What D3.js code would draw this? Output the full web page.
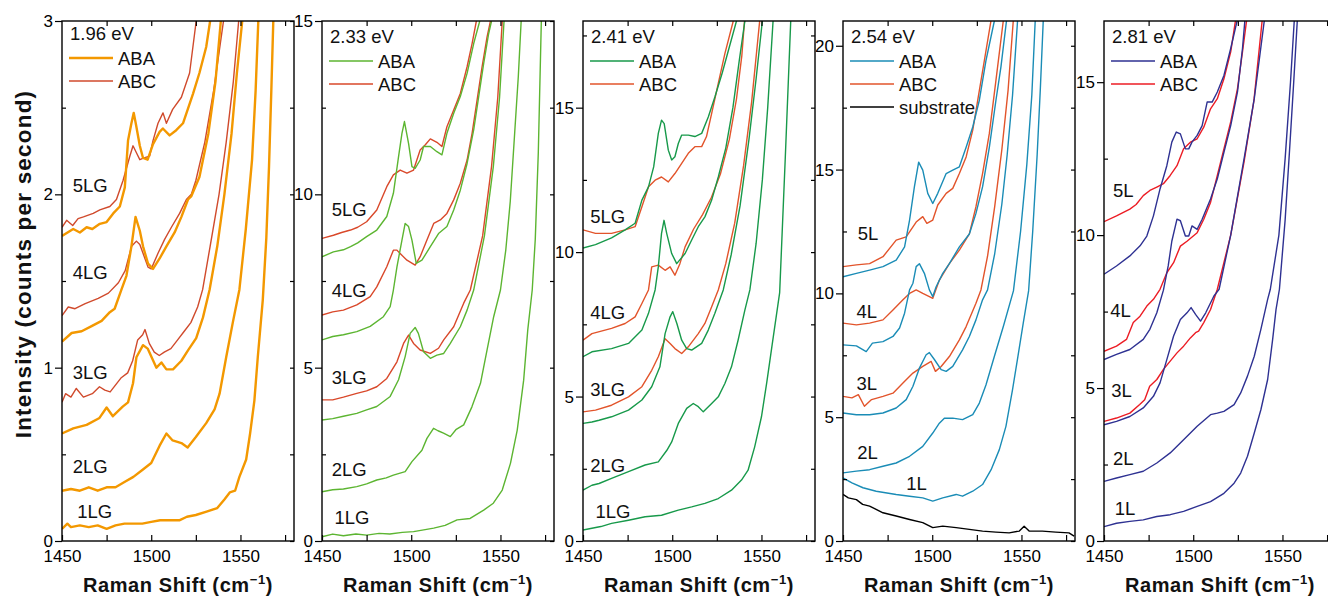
<!DOCTYPE html>
<html>
<head>
<meta charset="utf-8">
<script src="https://cdn.jsdelivr.net/npm/d3@7"></script>
<style>
  body { margin: 0; background: #fff; }
  svg { display: block; font-family: "Liberation Sans", Arial, Helvetica, sans-serif; }
</style>
</head>
<body>
<script>
// ---- data: [Raman shift (cm-1), intensity (counts per second)] ----
const energies = ['1.96 eV', '2.33 eV', '2.41 eV', '2.54 eV', '2.81 eV'];
const yMax = [3, 15, 18, 21, 17];
const layersLG = ['5LG', '4LG', '3LG', '2LG', '1LG'];
const layersL = ['5L', '4L', '3L', '2L', '1L'];

// 1.96 eV
const p1_1LG = [[1450,0.07],[1453,0.1],[1455,0.08],[1460,0.09],[1465,0.08],[1470,0.09],[1475,0.07],[1480,0.09],[1485,0.1],[1490,0.1],[1495,0.1],[1500,0.11],[1505,0.12],[1510,0.12],[1516,0.12],[1520,0.14],[1525,0.15],[1531,0.17],[1537,0.19],[1541,0.24],[1544,0.28],[1547,0.29],[1549.4,0.37],[1553.2,0.47],[1555.4,0.62],[1557.8,0.81],[1559.7,1.06],[1562.5,1.39],[1564.5,1.75],[1566,2.16],[1567.3,2.6],[1568.4,3.0]];
const p1_2LG = [[1450,0.29],[1455,0.3],[1460,0.29],[1465,0.31],[1470,0.29],[1475,0.31],[1480,0.31],[1485,0.34],[1490,0.37],[1495,0.41],[1500,0.45],[1504.7,0.55],[1508.5,0.62],[1512,0.58],[1516.9,0.565],[1520.4,0.54],[1525,0.6],[1530.8,0.68],[1535.5,0.76],[1538.3,0.85],[1542,1.06],[1545.7,1.26],[1549.4,1.45],[1553,1.8],[1556.5,2.2],[1558.5,2.6],[1560,3.0]];
const p1_3LG_ABA = [[1450,0.62],[1456.3,0.65],[1463.8,0.67],[1471,0.71],[1475,0.77],[1478.5,0.72],[1484,0.775],[1487,0.8],[1489.8,0.91],[1491.7,1.06],[1495.4,1.13],[1498,1.11],[1502.9,1.0],[1505.7,1.03],[1508.5,0.99],[1512.2,0.99],[1516.9,1.04],[1520.6,1.1],[1525.2,1.17],[1529,1.29],[1532.7,1.45],[1537,1.7],[1541,2.0],[1545,2.35],[1548,2.7],[1551,3.0]];
const p1_3LG_ABC = [[1450,0.8],[1452,0.85],[1455,0.83],[1458,0.88],[1462,0.83],[1467,0.85],[1471,0.89],[1474,0.87],[1477,0.86],[1483,0.94],[1486.8,0.97],[1489.6,1.04],[1492.4,1.16],[1495.2,1.19],[1496.5,1.22],[1498.9,1.14],[1501.7,1.09],[1504.5,1.07],[1507.3,1.09],[1511,1.11],[1514.8,1.16],[1518.5,1.21],[1522.2,1.26],[1526,1.35],[1528.8,1.45],[1533,1.7],[1538,2.0],[1542,2.3],[1546,2.65],[1549,3.0]];
const p1_4LG_ABA = [[1450,1.15],[1455.4,1.2],[1461,1.21],[1466.6,1.24],[1472.2,1.27],[1476.8,1.32],[1479.5,1.34],[1483.3,1.45],[1486.1,1.53],[1488.9,1.7],[1491.2,1.87],[1493.6,1.79],[1495.4,1.7],[1498.2,1.6],[1501,1.57],[1504.7,1.63],[1508.5,1.7],[1513.1,1.78],[1516.9,1.87],[1520.6,1.97],[1522.5,1.99],[1527,2.1],[1532,2.35],[1536,2.65],[1539,3.0]];
const p1_4LG_ABC = [[1450,1.3],[1453.5,1.35],[1457.3,1.34],[1463,1.37],[1470.3,1.4],[1476,1.43],[1481.6,1.49],[1485.4,1.56],[1489,1.7],[1491.7,1.73],[1493.6,1.71],[1495.4,1.66],[1498.2,1.58],[1500,1.57],[1503.8,1.66],[1507.5,1.74],[1511.3,1.81],[1515.9,1.89],[1519.7,1.97],[1522.5,2.0],[1525,2.08],[1530,2.3],[1535,2.6],[1540.5,3.0]];
const p1_5LG_ABA = [[1450,1.76],[1456.3,1.8],[1460,1.78],[1463.8,1.81],[1467,1.8],[1471.2,1.83],[1475,1.84],[1478.7,1.89],[1482.4,1.93],[1485.2,2.04],[1487,2.31],[1488.9,2.41],[1490.2,2.47],[1491.5,2.4],[1493.6,2.28],[1495.4,2.21],[1498,2.2],[1501,2.29],[1504.7,2.36],[1506.5,2.38],[1510.3,2.34],[1514,2.37],[1517.8,2.41],[1523.4,2.58],[1527,2.7],[1530.8,2.85],[1533,3.0]];
const p1_5LG_ABC = [[1450,1.81],[1452.6,1.85],[1456,1.82],[1459,1.86],[1462,1.87],[1467.5,1.89],[1471.2,1.91],[1476.8,1.93],[1480.5,1.97],[1484.2,2.08],[1488,2.22],[1489.8,2.28],[1491.7,2.24],[1493.6,2.2],[1496,2.21],[1499.1,2.22],[1501,2.31],[1503.8,2.41],[1506.6,2.47],[1508.5,2.41],[1512,2.49],[1516.9,2.56],[1521.5,2.7],[1525.2,3.0]];

// 2.33 eV
const p2_1LG = [[1450,0.12],[1456,0.2],[1462,0.15],[1469,0.2],[1475,0.17],[1482,0.22],[1488,0.2],[1495,0.25],[1501.3,0.27],[1507,0.32],[1512.6,0.37],[1519,0.45],[1525.7,0.61],[1533,0.65],[1540.6,0.89],[1546,1.09],[1551,1.47],[1555.6,2.24],[1559.4,3.2],[1563,4.64],[1565.3,6.09],[1567.8,7.24],[1569.5,8.7],[1571.2,11.2],[1572.9,15]];
const p2_2LG = [[1450,1.42],[1456,1.48],[1462,1.5],[1469.5,1.57],[1475,1.65],[1480.7,1.76],[1486,1.82],[1490,1.9],[1496.6,2.0],[1500.4,2.29],[1506,2.62],[1508.8,2.96],[1512.5,3.25],[1515,3.18],[1518.1,3.11],[1521.9,3.01],[1525,3.21],[1529.4,3.35],[1534,3.87],[1538.8,4.55],[1542.5,5.51],[1546.2,6.47],[1550,7.24],[1553,8.4],[1555.5,9.8],[1558,11.8],[1560,13.4],[1561.6,15]];
const p2_3LG_ABA = [[1450,3.49],[1456,3.53],[1462,3.6],[1469.5,3.68],[1475,3.78],[1480.7,3.88],[1488.2,4.17],[1492.9,4.65],[1496.6,5.32],[1499.4,5.99],[1502.2,6.16],[1504,5.99],[1506.9,5.46],[1510.7,5.27],[1514.4,5.36],[1518.2,5.41],[1521.9,5.7],[1527.5,6.18],[1531.3,6.66],[1535,7.24],[1541,8.8],[1546,10.8],[1549.5,12.8],[1552,15]];
const p2_3LG_ABC = [[1450,4.07],[1456,4.07],[1462,4.15],[1469.5,4.26],[1475,4.33],[1480.7,4.45],[1486.3,4.69],[1492,5.17],[1495.7,5.7],[1498.5,5.94],[1501.3,5.7],[1505,5.51],[1510.7,5.41],[1515.3,5.56],[1518.2,5.8],[1523.8,6.18],[1529.4,6.86],[1533.1,7.24],[1540,8.8],[1545,10.8],[1548.5,12.8],[1551,15]];
const p2_4LG_ABA = [[1450,5.8],[1456,5.9],[1462,5.95],[1469.5,6.04],[1477,6.19],[1484.4,6.47],[1488.2,6.76],[1490,7.24],[1492,7.91],[1494.8,8.68],[1496.6,9.16],[1498.5,9.07],[1500.4,8.68],[1502.8,8.01],[1506,8.1],[1510.7,8.49],[1515.3,8.87],[1520,9.07],[1523.8,9.55],[1527.5,10.12],[1531.3,10.89],[1535,11.86],[1537.8,12.82],[1540.6,13.78],[1543.4,14.64],[1545,15]];
const p2_4LG_ABC = [[1450,6.52],[1456,6.61],[1462,6.66],[1469.5,6.81],[1477,7.05],[1480.7,7.33],[1486.3,7.91],[1490,8.39],[1492,8.39],[1493.8,8.29],[1497.6,8.1],[1502.2,7.96],[1505,8.2],[1508.8,8.68],[1512.6,9.16],[1516.3,9.26],[1520,9.45],[1523.8,9.84],[1527.5,10.32],[1531.3,10.99],[1534.1,11.76],[1536.9,12.72],[1539.7,13.68],[1542.5,14.54],[1544.4,15]];
const p2_5LG_ABA = [[1450,8.2],[1456.4,8.34],[1462,8.4],[1466,8.49],[1470,8.6],[1475,8.78],[1480.7,8.97],[1486.3,9.36],[1490,10.03],[1492.9,11.09],[1494.8,11.76],[1496.2,12.1],[1498.5,11.47],[1500.4,10.8],[1502.2,10.75],[1505,10.99],[1506.9,11.38],[1510.7,11.38],[1514.4,11.23],[1517.2,11.14],[1520,11.76],[1523.8,12.34],[1527.5,12.82],[1531.3,13.49],[1535,14.35],[1538.4,15]];
const p2_5LG_ABC = [[1450,8.73],[1456.4,8.82],[1461,8.9],[1466,8.97],[1470,9.05],[1475,9.21],[1480.7,9.55],[1486.3,10.22],[1490,10.56],[1493.8,10.7],[1497.6,10.61],[1501.3,10.7],[1505,11.28],[1507.9,11.43],[1510.7,11.6],[1514.4,11.5],[1517.2,11.38],[1520,11.95],[1523.8,12.43],[1527.5,12.91],[1531.3,13.68],[1534.1,14.35],[1536.5,15]];

// 2.41 eV
const p3_1LG = [[1450,0.38],[1455,0.44],[1460,0.5],[1466,0.61],[1475.5,0.72],[1484.8,0.84],[1494,0.89],[1503.4,1.07],[1510.9,1.18],[1518.3,1.3],[1525.8,1.47],[1533.2,1.76],[1538.8,2.11],[1542.5,2.45],[1546.2,3.26],[1550,4.3],[1553,5.5],[1556,6.8],[1560.2,8.6],[1563.3,13.2],[1566.4,18]];
const p3_2LG = [[1450,1.76],[1455,1.93],[1459,1.99],[1466,2.17],[1475.5,2.4],[1484.8,2.63],[1492.2,2.74],[1497,3.14],[1499.7,3.43],[1503.4,4.07],[1508.1,4.59],[1511.8,4.76],[1514.6,4.65],[1517.4,4.47],[1522.1,4.76],[1525.8,4.99],[1529.5,5.45],[1533.2,6.03],[1536.9,6.95],[1540.7,7.99],[1543.5,8.69],[1547,10.3],[1550.5,12.5],[1553.5,15],[1556.5,18]];
const p3_3LG_ABA = [[1450,4.07],[1455,4.12],[1459,4.18],[1466,4.3],[1475.5,4.53],[1483,4.88],[1488.5,5.34],[1493.1,6.03],[1496,7.18],[1498.8,7.76],[1500.3,7.94],[1502.6,7.53],[1505.3,6.95],[1508.1,6.66],[1510.9,6.61],[1516.5,6.84],[1520.2,7.3],[1523.9,7.88],[1528.6,8.69],[1533,9.9],[1538,11.6],[1543,13.9],[1547,16],[1550.5,18]];
const p3_3LG_ABC = [[1450,4.47],[1457,4.53],[1466,4.7],[1475.5,4.99],[1483,5.34],[1488.5,5.91],[1492.2,6.38],[1496,7.0],[1498.8,6.84],[1501.5,6.66],[1505.3,6.49],[1509,6.72],[1514.6,7.18],[1518.3,7.53],[1522.1,8.11],[1525.8,8.69],[1530,9.6],[1535,11],[1540,13],[1544.5,15.2],[1549,18]];
const p3_4LG_ABA = [[1450,6.38],[1455,6.55],[1466,6.66],[1475.5,6.84],[1483,7.3],[1486.7,7.88],[1490.4,8.69],[1492.2,9.49],[1494,10.65],[1495.4,11.1],[1496.9,10.65],[1499.7,9.95],[1502.5,9.6],[1507.2,9.95],[1510.9,10.42],[1514.6,10.88],[1518.3,11.22],[1522.1,11.8],[1525.8,12.6],[1530,13.6],[1534,15],[1537.5,16.6],[1540.7,18]];
const p3_4LG_ABC = [[1450,6.95],[1455,7.18],[1466,7.36],[1473.6,7.53],[1479.2,7.76],[1483,8.22],[1486.7,8.69],[1488.5,9.49],[1492.2,9.55],[1496,9.37],[1498.8,9.49],[1501.5,9.2],[1504.3,9.6],[1507.2,10.18],[1512,10.8],[1517,11.3],[1522,11.9],[1527,12.7],[1532,13.9],[1536,15.3],[1539,16.8],[1540.5,18]];
const p3_5LG_ABA = [[1450,10.14],[1457,10.26],[1466,10.49],[1473.6,10.77],[1479.2,11.0],[1483,11.8],[1486.7,12.26],[1489.6,12.95],[1492.2,14.11],[1494,14.57],[1495.5,14.45],[1497.8,13.53],[1499.7,13.19],[1501.5,13.3],[1503.4,13.76],[1505.3,14.05],[1509,14.05],[1512.7,14.0],[1516.5,14.11],[1520.2,14.68],[1523.9,15.37],[1528,16.2],[1532,17.1],[1536,18]];
const p3_5LG_ABC = [[1450,10.77],[1457,10.65],[1466,10.65],[1473.6,10.77],[1479.2,10.88],[1483,11.57],[1486.7,12.26],[1490.4,12.49],[1494,12.6],[1497.8,12.43],[1501.5,12.72],[1505.3,13.07],[1509,13.42],[1512.7,13.65],[1516.5,13.65],[1519.2,14.0],[1522.1,14.8],[1525.8,15.84],[1529.5,16.87],[1534.2,18]];

// 2.54 eV
const p4_sub = [[1450,1.88],[1453,1.74],[1457.5,1.67],[1461,1.48],[1464.9,1.41],[1472.4,1.14],[1479.8,1.01],[1487.3,0.87],[1494.7,0.74],[1500.3,0.54],[1505.9,0.6],[1513.4,0.54],[1520.8,0.47],[1528.2,0.4],[1535.7,0.36],[1543.1,0.33],[1548.8,0.4],[1551.5,0.6],[1554.3,0.4],[1561.7,0.4],[1569.2,0.36],[1576.6,0.33],[1579.5,0.2]];
const p4_1L = [[1450,2.55],[1455,2.35],[1461.2,2.15],[1468.6,2.01],[1479.8,1.88],[1487.3,1.81],[1494.7,1.74],[1500.3,1.61],[1505.9,1.74],[1513.4,1.88],[1517,1.81],[1522.7,2.01],[1528.2,2.28],[1533,2.88],[1537.6,3.69],[1541.3,4.63],[1545,6.11],[1548,7.45],[1551,8.8],[1554,10.1],[1556.3,12.5],[1558.8,15.6],[1560.6,18.3],[1562.2,21]];
const p4_2L = [[1450,2.75],[1457.5,2.82],[1464.9,2.88],[1472.4,3.02],[1479.8,3.15],[1487.3,3.42],[1494.7,3.82],[1500.3,4.36],[1504,4.76],[1506.8,4.96],[1511.5,4.96],[1517,4.9],[1522.7,5.1],[1526.4,5.57],[1530.1,6.3],[1535,7.5],[1540,8.7],[1545.5,10.1],[1549.5,12.5],[1553,15.2],[1555.8,18],[1557.7,21]];
const p4_3L_ABA = [[1450,5.17],[1457.5,5.1],[1464.9,5.1],[1472.4,5.17],[1479.8,5.37],[1485.4,5.71],[1489.2,6.25],[1492.8,6.98],[1496.6,7.52],[1498.4,7.61],[1501.3,7.32],[1505,6.92],[1507.8,6.85],[1511.5,7.05],[1517,7.72],[1520.8,8.26],[1524.5,8.93],[1528.2,9.74],[1531,10.14],[1535,11.6],[1539,13.6],[1542,15.6],[1545,18],[1547.8,21]];
const p4_3L_ABC = [[1450,5.84],[1455,5.78],[1458.6,5.91],[1462,5.44],[1466,5.71],[1472.4,5.84],[1478,5.97],[1483.6,6.38],[1489.2,6.78],[1494.7,7.05],[1499.4,7.25],[1501.8,6.85],[1505,7.05],[1509.6,7.45],[1515.2,8.12],[1519,8.66],[1524.5,9.6],[1527.3,10.14],[1531,11.5],[1535,13.5],[1539,15.8],[1542.5,18.2],[1545.4,21]];
const p4_4L_ABA = [[1450,7.92],[1457.5,7.88],[1463,7.65],[1466.5,7.99],[1472.4,8.05],[1478,8.26],[1481.7,8.6],[1484.5,9.2],[1487.3,10.14],[1489.2,10.41],[1491,11.08],[1492.8,11.2],[1495.6,10.81],[1498.4,10.14],[1500.3,9.87],[1502.2,10.27],[1505.9,10.81],[1509.6,11.2],[1515.2,11.88],[1520.8,12.4],[1524.5,13.23],[1528.2,14.3],[1532,15.9],[1535.7,17.8],[1538.5,19.15],[1541.6,21]];
const p4_4L_ABC = [[1450,8.8],[1457.5,8.73],[1464.9,8.8],[1472.4,8.93],[1478,9.33],[1483.6,9.74],[1487.3,10.0],[1491,10.14],[1494.7,10.0],[1498.4,9.87],[1500.3,9.8],[1504,10.54],[1509.6,11.2],[1515.2,11.75],[1520.8,12.4],[1524.5,13.5],[1528.2,14.84],[1532,16.46],[1535.7,18.6],[1539.8,21]];
const p4_5L_ABA = [[1450,10.67],[1457.5,10.81],[1464.9,10.94],[1472.4,11.08],[1479.8,11.34],[1484.5,11.88],[1487.3,12.96],[1490,14.3],[1492.4,15.3],[1494.7,14.98],[1497.5,14.04],[1500.3,13.63],[1503.1,14.04],[1507.8,14.84],[1511.5,14.98],[1515.2,15.11],[1519,15.9],[1522.7,16.72],[1526.4,17.8],[1530.1,19.4],[1534.8,21]];
const p4_5L_ABC = [[1450,11.08],[1457.5,11.15],[1464.9,11.2],[1472.4,11.48],[1479.8,12.15],[1485.4,12.28],[1491,12.88],[1494.7,13.1],[1497,12.83],[1500.3,12.96],[1503.1,13.57],[1507.8,14.04],[1511.5,14.24],[1515.2,14.84],[1519,15.51],[1522.7,16.59],[1525.5,17.8],[1529.2,19.4],[1532.9,21]];

// 2.81 eV
const p5_1L = [[1450,0.47],[1457,0.58],[1464.5,0.64],[1472,0.69],[1479.6,0.8],[1487.1,0.86],[1494.6,0.97],[1502.2,1.13],[1509.7,1.29],[1517.2,1.56],[1522.9,1.89],[1526.6,2.22],[1530.4,2.77],[1534.2,3.53],[1537.9,4.29],[1541.7,5.28],[1544.5,6.59],[1546.4,7.57],[1548.3,8.23],[1551.5,10.5],[1554,12.8],[1556.3,15],[1558.3,17]];
const p5_2L = [[1450,1.95],[1457,2.06],[1464.5,2.17],[1472,2.28],[1479.6,2.55],[1487.1,2.88],[1494.6,3.31],[1502.2,3.75],[1509.7,4.13],[1513.5,4.18],[1517.2,4.24],[1522.9,4.46],[1526.6,4.84],[1530.4,5.39],[1534.2,6.04],[1537.9,6.92],[1541.7,7.9],[1543.2,8.23],[1548,10],[1551.5,12.5],[1554.5,15],[1556.6,17]];
const p5_3L_ABA = [[1450,3.8],[1457,3.91],[1464.5,4.07],[1472,4.35],[1477.7,4.73],[1481.4,5.17],[1485.2,5.93],[1489,6.7],[1492.8,7.24],[1496.5,7.46],[1498.8,7.63],[1501.3,7.41],[1504.1,7.19],[1507,7.46],[1511.6,8.01],[1514.5,8.23],[1521,10.0],[1528.5,12.5],[1534.2,14.46],[1539.8,17]];
const p5_3L_ABC = [[1450,3.91],[1457,4.02],[1464.5,4.18],[1470,4.46],[1472.8,4.62],[1475.6,5.06],[1479.6,5.28],[1483.3,5.61],[1487.1,5.88],[1490.9,6.15],[1494.6,6.37],[1498.4,6.64],[1501.3,6.81],[1503,6.86],[1505.9,7.14],[1509.7,7.57],[1513.5,8.23],[1521,10.0],[1528.5,12.4],[1534,14.4],[1538.6,17]];
const p5_4L_ABA = [[1450,5.93],[1457,6.1],[1464.5,6.26],[1472,6.59],[1475.7,6.92],[1479.6,7.46],[1483.3,8.2],[1486,9.0],[1488,9.8],[1490.9,10.52],[1492.8,10.47],[1495.6,9.97],[1497.5,9.97],[1499.3,10.3],[1502.2,10.19],[1505,10.52],[1509.7,11.18],[1513.5,11.84],[1517.2,12.71],[1521,13.58],[1524.8,14.68],[1527.6,16.1],[1529,17.06]];
const p5_4L_ABC = [[1450,6.2],[1457,6.37],[1462.6,6.59],[1466.4,7.14],[1470.2,7.35],[1474,7.68],[1477.7,7.9],[1481.4,8.23],[1485.2,8.77],[1489,9.1],[1492.8,9.64],[1496.5,9.8],[1502.2,10.08],[1505.9,10.52],[1509.7,11.07],[1513.5,11.95],[1517.2,12.82],[1521,13.7],[1524.8,14.79],[1527.6,15.99],[1530,17.06]];
const p5_5L_ABA = [[1450,8.72],[1457,8.99],[1464.5,9.32],[1470.2,9.65],[1474,9.97],[1477.7,10.63],[1481.4,11.51],[1485.2,12.27],[1488,13.04],[1490.5,13.37],[1492.8,13.31],[1495.6,12.82],[1497.5,12.82],[1499.3,13.04],[1502.2,13.26],[1505,13.58],[1507.8,14.35],[1510.6,14.35],[1513.5,14.68],[1517.2,15.22],[1521,16.1],[1524.8,17.06]];
const p5_5L_ABC = [[1450,10.44],[1457,10.63],[1464.5,10.85],[1468,11.0],[1472,11.29],[1475.7,11.46],[1479.6,11.57],[1483.3,11.68],[1487.1,11.95],[1490.9,12.27],[1494.6,12.82],[1498.4,13.04],[1502.2,13.15],[1505.9,13.53],[1509.7,14.13],[1513.5,14.46],[1517.2,15.11],[1521,15.99],[1523.8,17.06]];

// ---- layout ----
const W = 1328, H = 601;
const plotTop = 21, plotBottom = 541, pw = 232;
const xDomain = [1450, 1580];
const font = '"Liberation Sans", Arial, Helvetica, sans-serif';

const panels = [
  {
    left: 62, colors: { ABA: '#f39800', ABC: '#d04a2c' }, abaWidth: 2.4,
    major: [0, 1, 2, 3], minor: [0.5, 1.5, 2.5],
    curves: [
      { t: 'ABA', d: p1_1LG }, { t: 'ABA', d: p1_2LG },
      { t: 'ABC', d: p1_3LG_ABC }, { t: 'ABA', d: p1_3LG_ABA },
      { t: 'ABC', d: p1_4LG_ABC }, { t: 'ABA', d: p1_4LG_ABA },
      { t: 'ABC', d: p1_5LG_ABC }, { t: 'ABA', d: p1_5LG_ABA }
    ],
    names: layersLG, labelX: [1456, 1456, 1456, 1456, 1458.5], labelY: [2.05, 1.55, 0.975, 0.43, 0.17]
  },
  {
    left: 322, colors: { ABA: '#5cb531', ABC: '#d9482a' }, abaWidth: 1.4,
    major: [0, 5, 10, 15], minor: [2.5, 7.5, 12.5],
    curves: [
      { t: 'ABA', d: p2_1LG }, { t: 'ABA', d: p2_2LG },
      { t: 'ABC', d: p2_3LG_ABC }, { t: 'ABA', d: p2_3LG_ABA },
      { t: 'ABC', d: p2_4LG_ABC }, { t: 'ABA', d: p2_4LG_ABA },
      { t: 'ABC', d: p2_5LG_ABC }, { t: 'ABA', d: p2_5LG_ABA }
    ],
    names: layersLG, labelX: [1455.4, 1455.4, 1455.4, 1455.4, 1457], labelY: [9.58, 7.24, 4.73, 2.08, 0.69]
  },
  {
    left: 583, colors: { ABA: '#17994a', ABC: '#e2542b' }, abaWidth: 1.4,
    major: [0, 5, 10, 15], minor: [2.5, 7.5, 12.5, 17.5],
    curves: [
      { t: 'ABA', d: p3_1LG }, { t: 'ABA', d: p3_2LG },
      { t: 'ABC', d: p3_3LG_ABC }, { t: 'ABA', d: p3_3LG_ABA },
      { t: 'ABC', d: p3_4LG_ABC }, { t: 'ABA', d: p3_4LG_ABA },
      { t: 'ABC', d: p3_5LG_ABC }, { t: 'ABA', d: p3_5LG_ABA }
    ],
    names: layersLG, labelX: [1454, 1454, 1454, 1454, 1457], labelY: [11.25, 7.92, 5.26, 2.63, 1.04]
  },
  {
    left: 843, colors: { ABA: '#1a8cb6', ABC: '#e2542b', sub: '#000000' }, abaWidth: 1.4,
    major: [0, 5, 10, 15, 20], minor: [2.5, 7.5, 12.5, 17.5],
    curves: [
      { t: 'sub', d: p4_sub },
      { t: 'ABA', d: p4_1L }, { t: 'ABA', d: p4_2L },
      { t: 'ABC', d: p4_3L_ABC }, { t: 'ABA', d: p4_3L_ABA },
      { t: 'ABC', d: p4_4L_ABC }, { t: 'ABA', d: p4_4L_ABA },
      { t: 'ABC', d: p4_5L_ABC }, { t: 'ABA', d: p4_5L_ABA }
    ],
    names: layersL, labelX: [1458.2, 1457.5, 1457.5, 1458, 1485.4], labelY: [12.44, 9.29, 6.35, 3.57, 2.32],
    substrate: true
  },
  {
    left: 1104, colors: { ABA: '#2e3192', ABC: '#ec1c24' }, abaWidth: 1.4,
    major: [0, 5, 10, 15], minor: [2.5, 7.5, 12.5],
    curves: [
      { t: 'ABA', d: p5_1L }, { t: 'ABA', d: p5_2L },
      { t: 'ABC', d: p5_3L_ABC }, { t: 'ABA', d: p5_3L_ABA },
      { t: 'ABC', d: p5_4L_ABC }, { t: 'ABA', d: p5_4L_ABA },
      { t: 'ABC', d: p5_5L_ABC }, { t: 'ABA', d: p5_5L_ABA }
    ],
    names: layersL, labelX: [1455, 1453.5, 1454, 1455, 1456], labelY: [11.48, 7.54, 4.92, 2.69, 1.08]
  }
];

const svg = d3.select('body').append('svg')
  .attr('width', W).attr('height', H)
  .attr('viewBox', [0, 0, W, H]);

panels.forEach((p, i) => {
  const x = d3.scaleLinear().domain(xDomain).range([p.left, p.left + pw]);
  const y = d3.scaleLinear().domain([0, yMax[i]]).range([plotBottom, plotTop]);
  const g = svg.append('g');

  const clipId = 'clip' + i;
  svg.append('clipPath').attr('id', clipId)
    .append('rect')
    .attr('x', p.left).attr('y', plotTop)
    .attr('width', pw).attr('height', plotBottom - plotTop);

  const line = d3.line().x(d => x(d[0])).y(d => y(d[1]));

  g.append('g').attr('clip-path', `url(#${clipId})`)
    .selectAll('path')
    .data(p.curves)
    .join('path')
    .attr('d', d => line(d.d))
    .attr('fill', 'none')
    .attr('stroke', d => p.colors[d.t])
    .attr('stroke-width', d => (d.t === 'ABA' ? p.abaWidth : 1.4))
    .attr('stroke-linejoin', 'round');

  // axes
  const styleAxis = ax => {
    ax.attr('font-size', 17).attr('font-family', font);
    ax.selectAll('line').attr('stroke', '#000').attr('stroke-width', 1.2);
    ax.select('.domain').remove();
  };

  g.append('g')
    .attr('transform', `translate(0,${plotBottom})`)
    .call(d3.axisBottom(x).tickValues(d3.range(1450, 1581, 25)).tickSize(-6).tickSizeOuter(0)
      .tickPadding(9).tickFormat(d => (d % 50 === 0 ? d : '')))
    .call(styleAxis);

  g.append('g')
    .attr('transform', `translate(0,${plotTop})`)
    .call(d3.axisTop(x).tickValues(d3.range(1475, 1581, 25)).tickSize(-5).tickSizeOuter(0).tickFormat(''))
    .call(styleAxis);

  g.append('g')
    .attr('transform', `translate(${p.left},0)`)
    .call(d3.axisLeft(y).tickValues(p.major).tickSize(7).tickSizeOuter(0).tickPadding(2)
      .tickFormat(d3.format('d')))
    .call(styleAxis);

  g.append('g')
    .attr('transform', `translate(${p.left},0)`)
    .call(d3.axisLeft(y).tickValues(p.minor).tickSize(-4).tickSizeOuter(0).tickFormat(''))
    .call(styleAxis);

  g.append('g')
    .attr('transform', `translate(${p.left + pw},0)`)
    .call(d3.axisRight(y).tickValues(p.major.concat(p.minor)).tickSize(-4).tickSizeOuter(0).tickFormat(''))
    .call(styleAxis);

  g.append('rect')
    .attr('x', p.left).attr('y', plotTop)
    .attr('width', pw).attr('height', plotBottom - plotTop)
    .attr('fill', 'none').attr('stroke', '#000').attr('stroke-width', 1.4);

  // layer labels
  g.append('g').selectAll('text')
    .data(p.names)
    .join('text')
    .attr('x', (d, k) => x(p.labelX[k]))
    .attr('y', (d, k) => y(p.labelY[k]))
    .attr('dy', '0.36em')
    .attr('font-size', 18.5)
    .attr('fill', '#111')
    .text(d => d);

  // legend
  const lx = p.left + 7;
  const ly = i === 0 ? 58 : 61;
  const leg = g.append('g').attr('font-size', 18.5).attr('fill', '#111');
  leg.append('text').attr('x', lx + 1).attr('y', ly - 18).text(energies[i]);
  const items = p.substrate ? ['ABA', 'ABC', 'substrate'] : ['ABA', 'ABC'];
  const keyOf = { ABA: 'ABA', ABC: 'ABC', substrate: 'sub' };
  items.forEach((name, k) => {
    const yy = ly + k * 23;
    leg.append('line')
      .attr('x1', lx).attr('x2', lx + 44)
      .attr('y1', yy).attr('y2', yy)
      .attr('stroke', p.colors[keyOf[name]])
      .attr('stroke-width', name === 'ABA' ? p.abaWidth : 1.4);
    leg.append('text').attr('x', lx + 49).attr('y', yy).attr('dy', '0.36em').text(name);
  });

  // x axis title
  const xt = g.append('text')
    .attr('x', p.left + pw / 2).attr('y', 592)
    .attr('text-anchor', 'middle')
    .attr('font-size', 20).attr('font-weight', 'bold')
    .attr('letter-spacing', 0.6)
    .attr('fill', '#111');
  xt.append('tspan').text('Raman Shift (cm');
  xt.append('tspan').attr('font-size', 13).attr('dy', -8).text('\u22121');
  xt.append('tspan').attr('dy', 8).text(')');
});

svg.append('text')
  .attr('transform', 'translate(31,264) rotate(-90)')
  .attr('text-anchor', 'middle')
  .attr('font-size', 22.5).attr('font-weight', 'bold')
  .attr('letter-spacing', 1.2)
  .attr('fill', '#111')
  .text('Intensity (counts per second)');
</script>
</body>
</html>
